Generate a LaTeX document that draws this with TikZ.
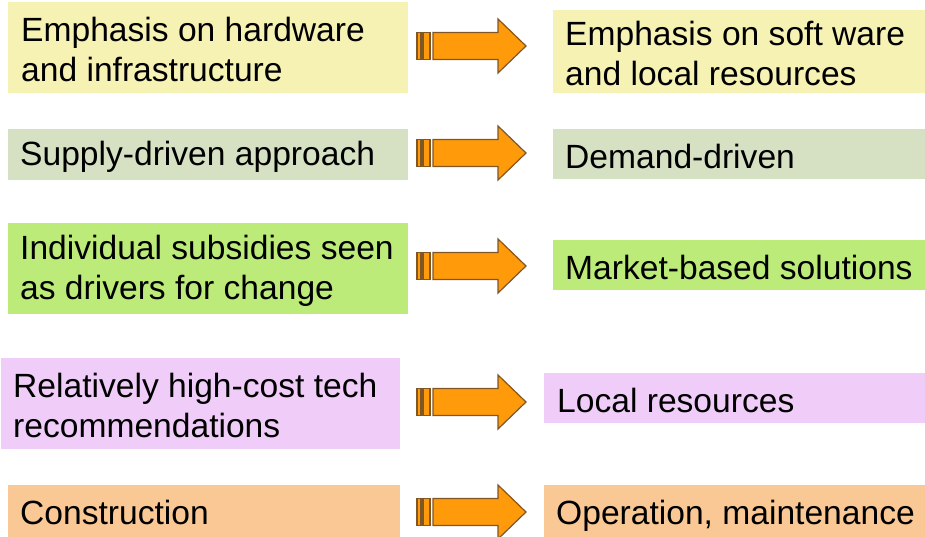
\documentclass[tikz,border=0pt]{standalone}
\usepackage{fontspec}
\setmainfont{Liberation Sans}
\begin{document}
\begin{tikzpicture}[x=1pt,y=-1pt,
  box/.style={draw=none,rectangle,inner sep=0pt,anchor=north west},
  label/.style={anchor=west,align=left,inner sep=0pt,yshift=-2pt,font=\fontsize{33.6}{40}\selectfont},
  arrowline/.style={draw=arrowedge,fill=arroworange,line width=1.2pt,line join=miter},
  shiftarrow/.pic={
    \path[arrowline] (0,-13.5) rectangle (4,13.5);
    \path[arrowline] (6,-13.5) rectangle (13,13.5);
    \path[arrowline] (16,-13.5) -- (81,-13.5) -- (81,-27) -- (109,0)
      -- (81,27) -- (81,13.5) -- (16,13.5) -- cycle;
  }]
\definecolor{rowyellow}{HTML}{F6F2B4}
\definecolor{rowsage}{HTML}{D6E0C2}
\definecolor{rowgreen}{HTML}{BCEB7A}
\definecolor{rowlilac}{HTML}{F0CCF8}
\definecolor{rowpeach}{HTML}{F9C894}
\definecolor{arroworange}{HTML}{FF9A0A}
\definecolor{arrowedge}{HTML}{7F5626}
\useasboundingbox (0,0) rectangle (925,537);
\clip (0,0) rectangle (925,537);

% row 1
\node[box,fill=rowyellow,minimum width=400pt,minimum height=91pt] (hw) at (8,2) {};
\node[label] (hwt) at ([xshift=13pt]hw.west) {Emphasis on hardware\\and infrastructure};
\node[box,fill=rowyellow,minimum width=372pt,minimum height=83pt] (sw) at (553,10) {};
\node[label] (swt) at ([xshift=12pt]sw.west) {Emphasis on soft ware\\and local resources};
\pic at (417,46) {shiftarrow};

% row 2
\node[box,fill=rowsage,minimum width=400pt,minimum height=51pt] (sup) at (8,129) {};
\node[label] (supt) at ([xshift=12pt]sup.west) {Supply-driven approach};
\node[box,fill=rowsage,minimum width=372pt,minimum height=50pt] (dem) at (553,129) {};
\node[label] (demt) at ([xshift=12pt]dem.west) {Demand-driven};
\pic at (417,153) {shiftarrow};

% row 3
\node[box,fill=rowgreen,minimum width=400pt,minimum height=91pt] (sub) at (8,223) {};
\node[label] (subt) at ([xshift=12pt]sub.west) {Individual subsidies seen\\as drivers for change};
\node[box,fill=rowgreen,minimum width=372pt,minimum height=50pt] (mkt) at (553,240) {};
\node[label] (mktt) at ([xshift=12pt]mkt.west) {Market-based solutions};
\pic at (417,266) {shiftarrow};

% row 4
\node[box,fill=rowlilac,minimum width=399pt,minimum height=91pt] (tech) at (1,358) {};
\node[label] (techt) at ([xshift=12pt]tech.west) {Relatively high-cost tech\\recommendations};
\node[box,fill=rowlilac,minimum width=381pt,minimum height=50pt] (loc) at (544,373) {};
\node[label] (loct) at ([xshift=13pt]loc.west) {Local resources};
\pic at (417,402) {shiftarrow};

% row 5
\node[box,fill=rowpeach,minimum width=392pt,minimum height=56pt] (con) at (8,485) {};
\node[label,anchor=base west,yshift=2pt] (cont) at (20,524) {Construction};
\node[box,fill=rowpeach,minimum width=381pt,minimum height=56pt] (ops) at (544,485) {};
\node[label,anchor=base west,yshift=2pt] (opst) at (556,524) {Operation, maintenance};
\pic at (417,512) {shiftarrow};
\end{tikzpicture}
\end{document}
